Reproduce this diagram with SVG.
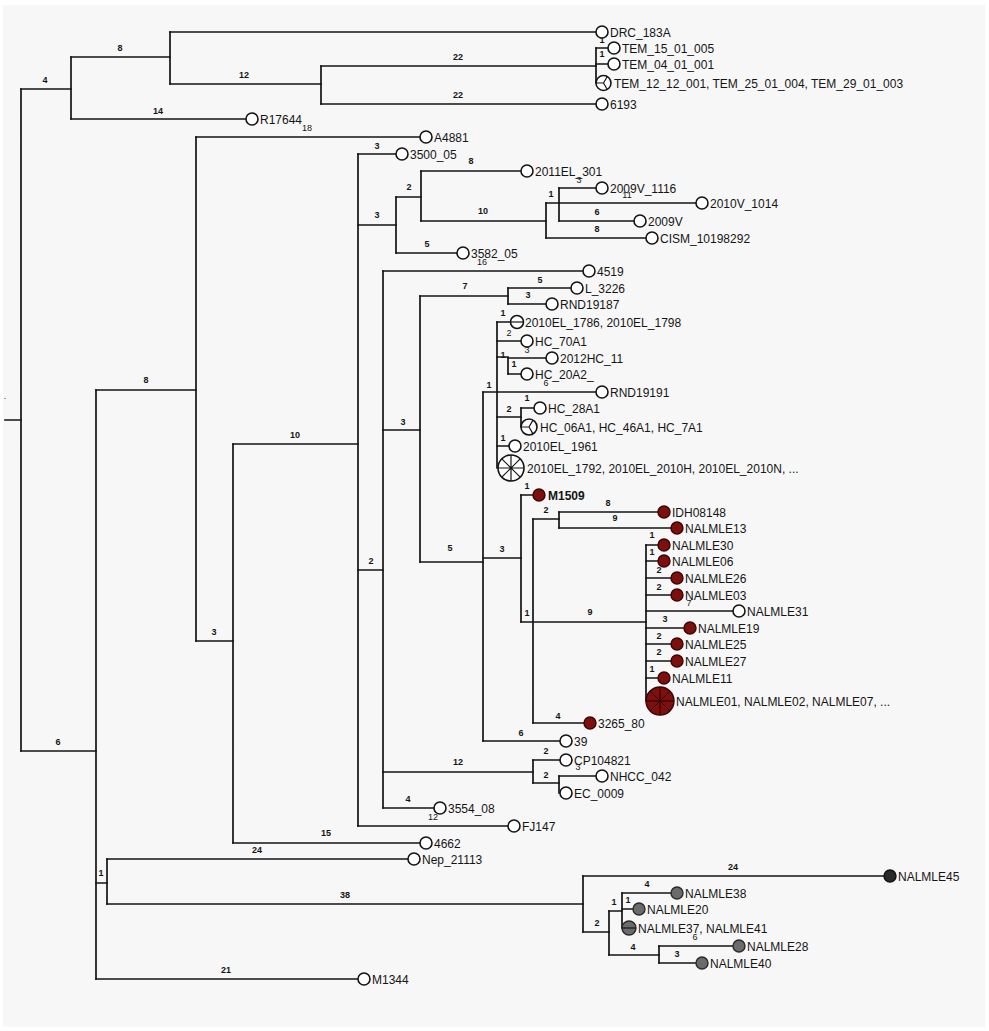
<svg xmlns="http://www.w3.org/2000/svg" width="989" height="1031" viewBox="0 0 989 1031">
<style>
.ln{fill:none;stroke:#141414;stroke-width:1.7;stroke-linecap:square}
.c{fill:#ffffff;stroke:#141414;stroke-width:1.6}
.r{fill:#7d0f0f;stroke:#3a0505;stroke-width:1.4}
.g{fill:#6b6b6b;stroke:#2a2a2a;stroke-width:1.4}
.k{fill:#2a2a2a;stroke:#111;stroke-width:1.4}
.sp{fill:none;stroke:#141414;stroke-width:1.2}
.spr{fill:none;stroke:#2a0000;stroke-width:1}
.tx{font-family:"Liberation Sans",Arial,sans-serif;font-size:12px;fill:#151515}
.bl{font-family:"Liberation Sans",Arial,sans-serif;font-size:9px;font-weight:bold;fill:#151515;text-anchor:middle}
.bn{font-family:"Liberation Sans",Arial,sans-serif;font-size:9px;fill:#151515;text-anchor:middle}
</style>
<rect x="0" y="0" width="989" height="1031" fill="#ffffff"/>
<rect x="3" y="5" width="982" height="1022" fill="#f7f7f7"/>
<g id="connectors">
<path class="ln" d="M21 89V751 M71 57V119 M170 32V84 M321 66V104 M596 48V83 M96 390V979 M196 137V641 M233 444V843 M358 154V826 M396 197V253 M421 171V221 M546 203V238 M559 188V221 M383 271V808 M420 296V562 M508 288V304 M483 392V741 M497 322V468 M508 358V374 M521 408V427 M521 495V622 M533 519V723 M559 512V528 M646 545V701 M533 760V783 M559 776V793 M107 859V904 M583 876V932 M609 911V955 M622 893V928 M659 946V963"/>
<path class="ln" d="M5 420H21 M21 89H71 M21 751H96 M71 57H170 M71 119H246 M170 32H596 M170 84H321 M321 66H596 M321 104H596 M596 48H608 M596 64H608 M96 390H196 M96 883H107 M96 979H358 M196 137H420 M196 641H233 M233 444H358 M233 843H420 M358 154H396 M358 225H396 M358 570H383 M358 826H508 M396 197H421 M396 253H457 M421 171H521 M421 221H546 M546 203H559 M546 238H646 M559 188H596 M559 203H696 M559 221H634 M383 271H583 M383 430H420 M383 772H533 M383 808H434 M420 296H508 M420 562H483 M508 288H571 M508 304H546 M483 392H497 M483 558H521 M483 741H560 M497 322H511 M497 341H521 M497 357H508 M497 392H596 M497 417H521 M497 446H509 M508 358H546 M508 374H521 M521 408H534 M521 495H533 M521 622H646 M533 519H559 M533 723H584 M559 512H658 M559 528H671 M646 545H658 M646 561H658 M646 578H671 M646 595H671 M646 611H733 M646 628H684 M646 644H671 M646 661H671 M646 678H658 M533 760H560 M533 783H559 M559 776H596 M107 859H408 M107 904H583 M583 876H884 M583 932H609 M609 911H622 M622 893H671 M622 909H633 M609 955H659 M659 946H733 M659 963H696"/>
</g>
<g id="branch-labels">
<text class="bl" x="45" y="83">4</text>
<text class="bl" x="120" y="51">8</text>
<text class="bl" x="244" y="78">12</text>
<text class="bl" x="458" y="60">22</text>
<text class="bl" x="458" y="98">22</text>
<text class="bl" x="602" y="43">1</text>
<text class="bl" x="602" y="57">1</text>
<text class="bl" x="158" y="114">14</text>
<text class="bn" x="307" y="131">18</text>
<text class="bl" x="146" y="383">8</text>
<text class="bl" x="58" y="745">6</text>
<text class="bl" x="101" y="876">1</text>
<text class="bl" x="257" y="853">24</text>
<text class="bl" x="345" y="898">38</text>
<text class="bl" x="226" y="973">21</text>
<text class="bl" x="214" y="635">3</text>
<text class="bl" x="295" y="438">10</text>
<text class="bl" x="326" y="836">15</text>
<text class="bl" x="377" y="149">3</text>
<text class="bl" x="377" y="218">3</text>
<text class="bl" x="409" y="190">2</text>
<text class="bl" x="471" y="164">8</text>
<text class="bn" x="579" y="183">3</text>
<text class="bl" x="483" y="214">10</text>
<text class="bl" x="551" y="197">1</text>
<text class="bn" x="627" y="198">11</text>
<text class="bl" x="597" y="215">6</text>
<text class="bl" x="597" y="232">8</text>
<text class="bl" x="427" y="247">5</text>
<text class="bn" x="482" y="265">16</text>
<text class="bl" x="371" y="564">2</text>
<text class="bl" x="403" y="425">3</text>
<text class="bl" x="465" y="289">7</text>
<text class="bl" x="540" y="283">5</text>
<text class="bl" x="528" y="298">3</text>
<text class="bl" x="450" y="551">5</text>
<text class="bl" x="489" y="388">1</text>
<text class="bl" x="503" y="316">1</text>
<text class="bn" x="509" y="336">2</text>
<text class="bn" x="527" y="353">3</text>
<text class="bl" x="503" y="358">1</text>
<text class="bl" x="514" y="367">1</text>
<text class="bn" x="546" y="386">6</text>
<text class="bl" x="509" y="412">2</text>
<text class="bl" x="527" y="401">1</text>
<text class="bl" x="503" y="441">1</text>
<text class="bl" x="502" y="552">3</text>
<text class="bl" x="527" y="489">1</text>
<text class="bl" x="546" y="513">2</text>
<text class="bl" x="608" y="506">8</text>
<text class="bl" x="615" y="521">9</text>
<text class="bl" x="527" y="616">1</text>
<text class="bl" x="590" y="615">9</text>
<text class="bl" x="652" y="538">1</text>
<text class="bl" x="652" y="555">1</text>
<text class="bl" x="659" y="573">2</text>
<text class="bl" x="659" y="590">2</text>
<text class="bn" x="689" y="606">7</text>
<text class="bl" x="665" y="622">3</text>
<text class="bl" x="659" y="639">2</text>
<text class="bl" x="659" y="655">2</text>
<text class="bl" x="652" y="672">1</text>
<text class="bl" x="558" y="719">4</text>
<text class="bl" x="521" y="736">6</text>
<text class="bl" x="458" y="765">12</text>
<text class="bl" x="546" y="754">2</text>
<text class="bl" x="546" y="778">2</text>
<text class="bn" x="578" y="770">3</text>
<text class="bl" x="408" y="802">4</text>
<text class="bn" x="433" y="820">12</text>
<text class="bl" x="733" y="870">24</text>
<text class="bl" x="597" y="926">2</text>
<text class="bl" x="614" y="905">1</text>
<text class="bl" x="647" y="887">4</text>
<text class="bl" x="628" y="903">1</text>
<text class="bn" x="695" y="940">6</text>
<text class="bl" x="633" y="950">4</text>
<text class="bl" x="677" y="957">3</text>
<text class="bn" x="5" y="399">.</text>
</g>
<g id="DRC_183A"><circle class="c" cx="602" cy="32" r="6"/><text class="tx" x="610" y="36.5">DRC_183A</text></g>
<g id="TEM_15_01_005"><circle class="c" cx="614" cy="48" r="6"/><text class="tx" x="622" y="52.5">TEM_15_01_005</text></g>
<g id="TEM_04_01_001"><circle class="c" cx="614" cy="64" r="6"/><text class="tx" x="622" y="68.5">TEM_04_01_001</text></g>
<g id="TEM_12_12_001"><circle class="c" cx="603.5" cy="83" r="7.5"/><path class="sp" d="M603.5 83H596 M603.5 83L607.3 76.5 M603.5 83L607.3 89.5"/><text class="tx" x="614" y="87.5">TEM_12_12_001, TEM_25_01_004, TEM_29_01_003</text></g>
<g id="n6193"><circle class="c" cx="602" cy="104" r="6"/><text class="tx" x="610" y="108.5">6193</text></g>
<g id="R17644"><circle class="c" cx="252" cy="119" r="6"/><text class="tx" x="260" y="123.5">R17644</text></g>
<g id="A4881"><circle class="c" cx="426" cy="137" r="6"/><text class="tx" x="434" y="141.5">A4881</text></g>
<g id="n3500_05"><circle class="c" cx="402" cy="154" r="6"/><text class="tx" x="410" y="158.5">3500_05</text></g>
<g id="n2011EL_301"><circle class="c" cx="527" cy="171" r="6"/><text class="tx" x="535" y="175.5">2011EL_301</text></g>
<g id="n2009V_1116"><circle class="c" cx="602" cy="188" r="6"/><text class="tx" x="610" y="192.5">2009V_1116</text></g>
<g id="n2010V_1014"><circle class="c" cx="702" cy="203" r="6"/><text class="tx" x="710" y="207.5">2010V_1014</text></g>
<g id="n2009V"><circle class="c" cx="640" cy="221" r="6"/><text class="tx" x="648" y="225.5">2009V</text></g>
<g id="CISM_10198292"><circle class="c" cx="652" cy="238" r="6"/><text class="tx" x="660" y="242.5">CISM_10198292</text></g>
<g id="n3582_05"><circle class="c" cx="463" cy="253" r="6"/><text class="tx" x="471" y="257.5">3582_05</text></g>
<g id="n4519"><circle class="c" cx="589" cy="271" r="6"/><text class="tx" x="597" y="275.5">4519</text></g>
<g id="L_3226"><circle class="c" cx="577" cy="288" r="6"/><text class="tx" x="585" y="292.5">L_3226</text></g>
<g id="RND19187"><circle class="c" cx="552" cy="304" r="6"/><text class="tx" x="560" y="308.5">RND19187</text></g>
<g id="n2010EL_1786"><circle class="c" cx="517" cy="322" r="6.5"/><path class="sp" d="M510.5 322H523.5"/><text class="tx" x="525" y="326.5">2010EL_1786, 2010EL_1798</text></g>
<g id="HC_70A1"><circle class="c" cx="527" cy="341" r="6"/><text class="tx" x="535" y="345.5">HC_70A1</text></g>
<g id="n2012HC_11"><circle class="c" cx="552" cy="358" r="6"/><text class="tx" x="560" y="362.5">2012HC_11</text></g>
<g id="HC_20A2_"><circle class="c" cx="527" cy="374" r="6"/><text class="tx" x="535" y="378.5">HC_20A2_</text></g>
<g id="RND19191"><circle class="c" cx="602" cy="392" r="6"/><text class="tx" x="610" y="396.5">RND19191</text></g>
<g id="HC_28A1"><circle class="c" cx="540" cy="408" r="6"/><text class="tx" x="548" y="412.5">HC_28A1</text></g>
<g id="HC_06A1"><circle class="c" cx="529" cy="427" r="8"/><path class="sp" d="M529 427H521 M529 427L533 420.1 M529 427L533 433.9"/><text class="tx" x="540" y="431.5">HC_06A1, HC_46A1, HC_7A1</text></g>
<g id="n2010EL_1961"><circle class="c" cx="515" cy="446" r="6"/><text class="tx" x="523" y="450.5">2010EL_1961</text></g>
<g id="n2010EL_1792"><circle class="c" cx="511" cy="468" r="13"/><path class="sp" d="M498 468H524 M511 455V481 M501.8 458.8L520.2 477.2 M501.8 477.2L520.2 458.8"/><text class="tx" x="527" y="472.5">2010EL_1792, 2010EL_2010H, 2010EL_2010N, ...</text></g>
<g id="M1509"><circle class="r" cx="539" cy="495" r="6"/><text class="tx" x="548" y="499.5" font-weight="bold">M1509</text></g>
<g id="IDH08148"><circle class="r" cx="664" cy="512" r="6"/><text class="tx" x="672" y="516.5">IDH08148</text></g>
<g id="NALMLE13"><circle class="r" cx="677" cy="528" r="6"/><text class="tx" x="685" y="532.5">NALMLE13</text></g>
<g id="NALMLE30"><circle class="r" cx="664" cy="545" r="6"/><text class="tx" x="672" y="549.5">NALMLE30</text></g>
<g id="NALMLE06"><circle class="r" cx="664" cy="561" r="6"/><text class="tx" x="672" y="565.5">NALMLE06</text></g>
<g id="NALMLE26"><circle class="r" cx="677" cy="578" r="6"/><text class="tx" x="685" y="582.5">NALMLE26</text></g>
<g id="NALMLE03"><circle class="r" cx="677" cy="595" r="6"/><text class="tx" x="685" y="599.5">NALMLE03</text></g>
<g id="NALMLE31"><circle class="c" cx="739" cy="611" r="6"/><text class="tx" x="747" y="615.5">NALMLE31</text></g>
<g id="NALMLE19"><circle class="r" cx="690" cy="628" r="6"/><text class="tx" x="698" y="632.5">NALMLE19</text></g>
<g id="NALMLE25"><circle class="r" cx="677" cy="644" r="6"/><text class="tx" x="685" y="648.5">NALMLE25</text></g>
<g id="NALMLE27"><circle class="r" cx="677" cy="661" r="6"/><text class="tx" x="685" y="665.5">NALMLE27</text></g>
<g id="NALMLE11"><circle class="r" cx="664" cy="678" r="6"/><text class="tx" x="672" y="682.5">NALMLE11</text></g>
<g id="NALMLE01"><circle class="r" cx="660" cy="701" r="14"/><path class="spr" d="M646 701H674 M660 687V715 M650.1 691.1L669.9 710.9 M650.1 710.9L669.9 691.1"/><text class="tx" x="676" y="705.5">NALMLE01, NALMLE02, NALMLE07, ...</text></g>
<g id="n3265_80"><circle class="r" cx="590" cy="723" r="6"/><text class="tx" x="598" y="727.5">3265_80</text></g>
<g id="n39"><circle class="c" cx="566" cy="741" r="6"/><text class="tx" x="574" y="745.5">39</text></g>
<g id="CP104821"><circle class="c" cx="566" cy="760" r="6"/><text class="tx" x="574" y="764.5">CP104821</text></g>
<g id="NHCC_042"><circle class="c" cx="602" cy="776" r="6"/><text class="tx" x="610" y="780.5">NHCC_042</text></g>
<g id="EC_0009"><circle class="c" cx="566" cy="793" r="6"/><text class="tx" x="574" y="797.5">EC_0009</text></g>
<g id="n3554_08"><circle class="c" cx="440" cy="808" r="6"/><text class="tx" x="448" y="812.5">3554_08</text></g>
<g id="FJ147"><circle class="c" cx="514" cy="826" r="6"/><text class="tx" x="522" y="830.5">FJ147</text></g>
<g id="n4662"><circle class="c" cx="426" cy="843" r="6"/><text class="tx" x="434" y="847.5">4662</text></g>
<g id="Nep_21113"><circle class="c" cx="414" cy="859" r="6"/><text class="tx" x="422" y="863.5">Nep_21113</text></g>
<g id="NALMLE45"><circle class="k" cx="890" cy="876" r="6"/><text class="tx" x="898" y="880.5">NALMLE45</text></g>
<g id="NALMLE38"><circle class="g" cx="677" cy="893" r="6"/><text class="tx" x="685" y="897.5">NALMLE38</text></g>
<g id="NALMLE20"><circle class="g" cx="639" cy="909" r="6"/><text class="tx" x="647" y="913.5">NALMLE20</text></g>
<g id="NALMLE37"><circle class="g" cx="629" cy="928" r="7"/><path class="sp" d="M622 928H636"/><text class="tx" x="638" y="932.5">NALMLE37, NALMLE41</text></g>
<g id="NALMLE28"><circle class="g" cx="739" cy="946" r="6"/><text class="tx" x="747" y="950.5">NALMLE28</text></g>
<g id="NALMLE40"><circle class="g" cx="702" cy="963" r="6"/><text class="tx" x="710" y="967.5">NALMLE40</text></g>
<g id="M1344"><circle class="c" cx="364" cy="979" r="6"/><text class="tx" x="372" y="983.5">M1344</text></g>
</svg>
